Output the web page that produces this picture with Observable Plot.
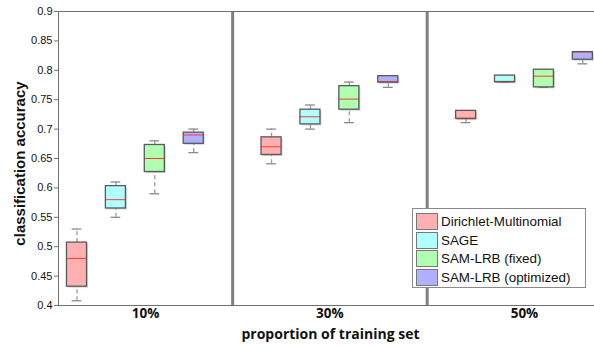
<!DOCTYPE html>
<html><head><meta charset="utf-8">
<script src="https://cdn.jsdelivr.net/npm/d3@7"></script>
<script src="https://cdn.jsdelivr.net/npm/@observablehq/plot@0.6"></script>
<style>
body{margin:0;background:#fff;}
#wrap{position:relative;width:594px;height:348px;overflow:hidden;background:#fff;}
.legend{position:absolute;left:412px;top:208px;width:174px;height:80px;border:1px solid #8a8a8a;background:#fff;font-family:"Liberation Sans",Arial,sans-serif;font-size:13.4px;box-sizing:border-box;padding:3px 0 0 3px;color:#111;}
.row{display:flex;align-items:center;height:18.7px;}
.sw{width:22px;height:17px;border:1px solid #777;box-sizing:border-box;margin-right:3px;}
</style></head><body><div id="wrap"></div>
<script>
const groups = ["10%", "30%", "50%"];
const methods = ["Dirichlet-Multinomial", "SAGE", "SAM-LRB (fixed)", "SAM-LRB (optimized)"];
const colors = ["#ffb0b0", "#b0ffff", "#b0ffb0", "#b0b0ff"];
// each array: one row per method, one value per group (10%, 30%, 50%)
const whiskerLow  = [[0.408, 0.641, 0.711], [0.550, 0.700, 0.780], [0.590, 0.711, 0.771], [0.660, 0.771, 0.811]];
const quartile1   = [[0.432, 0.656, 0.7175], [0.565, 0.708, 0.780], [0.627, 0.733, 0.771], [0.675, 0.779, 0.818]];
const medians     = [[0.480, 0.670, 0.7175], [0.580, 0.721, 0.780], [0.650, 0.751, 0.790], [0.690, 0.781, 0.831]];
const quartile3   = [[0.507, 0.686, 0.731], [0.603, 0.733, 0.791], [0.673, 0.773, 0.801], [0.694, 0.790, 0.831]];
const whiskerHigh = [[0.530, 0.700, 0.731], [0.610, 0.741, 0.791], [0.680, 0.780, 0.801], [0.700, 0.790, 0.831]];
const yTicks = [0.4, 0.45, 0.5, 0.55, 0.6, 0.65, 0.7, 0.75, 0.8, 0.85, 0.9];

const spacing = 0.2, boxW = 0.103, capW = 0.05;
const xDomain = [-0.395, 2.36];
const rows = [];
groups.forEach((g, gi) => methods.forEach((m, mi) => rows.push({
  group: g, method: m, color: colors[mi],
  x: gi + (mi - 1.5) * spacing,
  lo: whiskerLow[mi][gi], q1: quartile1[mi][gi], med: medians[mi][gi],
  q3: quartile3[mi][gi], hi: whiskerHigh[mi][gi]
})));
const xTickPos = groups.map((g, i) => i === 0 ? (xDomain[0] + 0.5) / 2 : i);

const chart = Plot.plot({
  width: 594, height: 348,
  marginLeft: 58, marginRight: 0, marginTop: 11, marginBottom: 43,
  style: {fontFamily: "'Liberation Sans', Arial, sans-serif", background: "#fff"},
  x: {domain: xDomain, axis: null},
  y: {domain: [0.4, 0.9]},
  marks: [
    // shadows
    Plot.rect(rows, {x1: d => d.x - boxW / 2, x2: d => d.x + boxW / 2, y1: "q1", y2: "q3", fill: "#d4d4d4", dx: 1.5, dy: 1.5}),
    // whiskers
    Plot.ruleX(rows, {x: "x", y1: "q3", y2: "hi", stroke: "#9a9a9a", strokeWidth: 1.3, strokeDasharray: "4,3"}),
    Plot.ruleX(rows, {x: "x", y1: "lo", y2: "q1", stroke: "#9a9a9a", strokeWidth: 1.3, strokeDasharray: "4,3"}),
    Plot.ruleY(rows, {y: "hi", x1: d => d.x - capW / 2, x2: d => d.x + capW / 2, stroke: "#8a8a8a", strokeWidth: 1.3}),
    Plot.ruleY(rows, {y: "lo", x1: d => d.x - capW / 2, x2: d => d.x + capW / 2, stroke: "#8a8a8a", strokeWidth: 1.3}),
    // box fill
    Plot.rect(rows, {x1: d => d.x - boxW / 2, x2: d => d.x + boxW / 2, y1: "q1", y2: "q3", fill: "color"}),
    // median
    Plot.ruleY(rows, {y: "med", x1: d => d.x - boxW / 2, x2: d => d.x + boxW / 2, stroke: "#ff3a3a", strokeWidth: 1}),
    // box outline
    Plot.rect(rows, {x1: d => d.x - boxW / 2, x2: d => d.x + boxW / 2, y1: "q1", y2: "q3", fill: "none", stroke: "#5a5a5a", strokeWidth: 1.3}),
    // separators
    Plot.ruleX([0.5, 1.5], {stroke: "#808080", strokeWidth: 3}),
    // frame lines
    Plot.ruleY([0.9, 0.4], {stroke: "#707070", strokeWidth: 1}),
    Plot.ruleX([xDomain[0]], {stroke: "#707070", strokeWidth: 1}),
    Plot.axisY({ticks: yTicks, tickSize: 4, tickPadding: 2, fontSize: 11, label: null, stroke: "#707070", color: "#111", tickFormat: d => String(+d.toFixed(2))}),
    // group labels
    Plot.text(groups, {x: (d, i) => xTickPos[i], frameAnchor: "bottom", dy: 12, fontWeight: "bold", fontSize: 13.5, fontFamily: "'Open Sans', sans-serif", fill: "#111"}),
    Plot.text(["proportion of training set"], {frameAnchor: "bottom", dy: 33, dx: 4, fontWeight: "bold", fontSize: 14, fontFamily: "'Open Sans', sans-serif", fill: "#111"}),
    Plot.text(["classification accuracy"], {frameAnchor: "left", textAnchor: "middle", dx: -38, dy: 5, rotate: -90, fontWeight: "bold", fontSize: 15, fill: "#111"})
  ]
});
const wrap = document.getElementById("wrap");
wrap.appendChild(chart);
const legend = document.createElement("div");
legend.className = "legend";
methods.forEach((m, i) => {
  const r = document.createElement("div"); r.className = "row";
  const s = document.createElement("div"); s.className = "sw"; s.style.background = colors[i];
  const t = document.createElement("span"); t.textContent = m;
  r.appendChild(s); r.appendChild(t); legend.appendChild(r);
});
wrap.appendChild(legend);
</script></body></html>
